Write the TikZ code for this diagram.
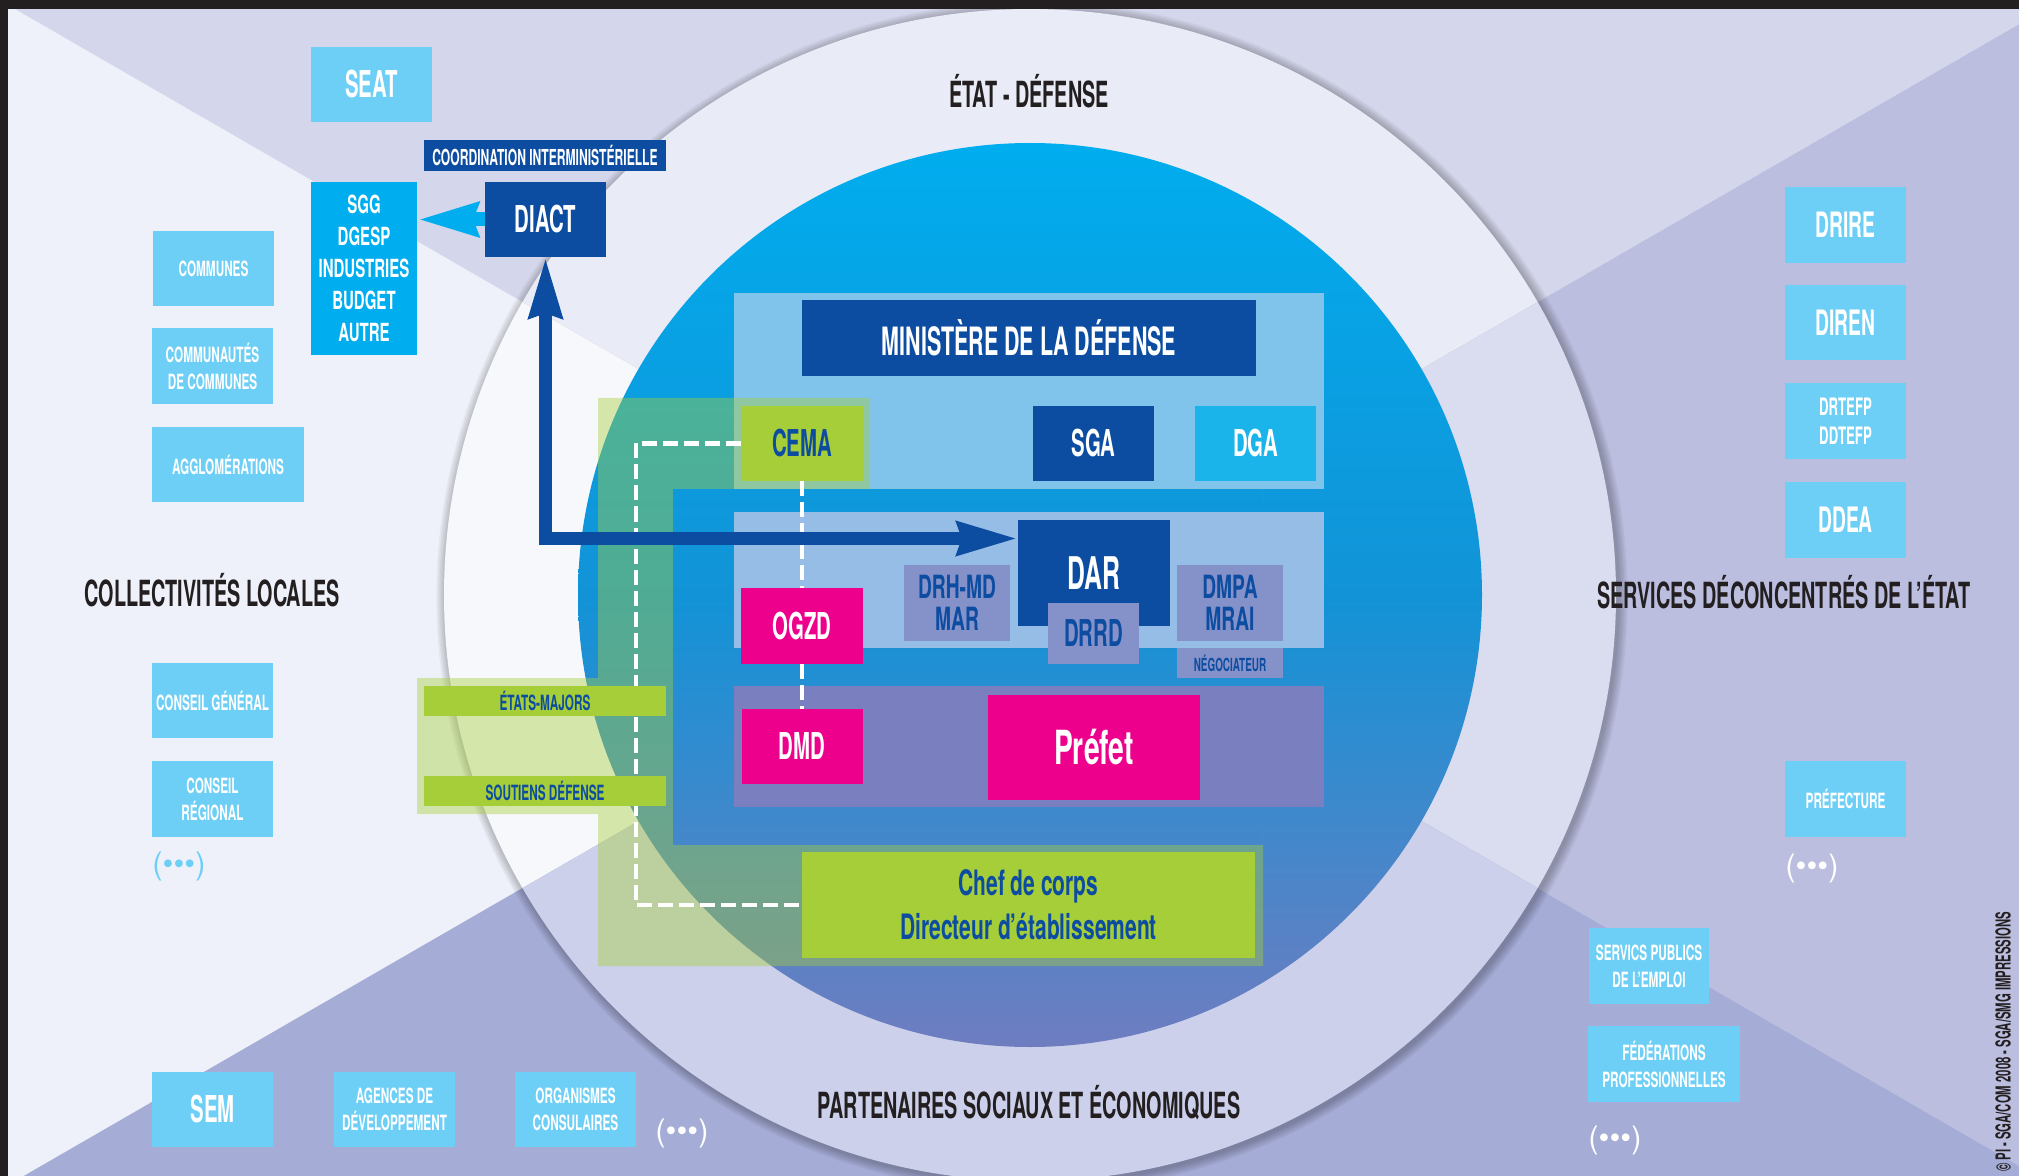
\documentclass[tikz,border=0pt]{standalone}
\usepackage{fontspec}
\setmainfont{TeX Gyre Heros}[FakeStretch=0.55]
\newfontfamily\widefont{TeX Gyre Heros}[FakeStretch=0.6]
\newfontfamily\smallfont{TeX Gyre Heros}[FakeStretch=0.56]
\newfontfamily\dotfont{TeX Gyre Heros}
\usetikzlibrary{arrows.meta}

\definecolor{ink}{HTML}{231F20}
\definecolor{navy}{HTML}{0D4DA1}
\definecolor{skyfill}{HTML}{6DCFF6}
\definecolor{cyanfill}{HTML}{00AEEF}
\definecolor{dgafill}{HTML}{1BB4EA}
\definecolor{pinkfill}{HTML}{EC008C}
\definecolor{limefill}{HTML}{A6CE39}
\definecolor{greyfill}{HTML}{8591C9}
\definecolor{secleft}{HTML}{EEF1F9}
\definecolor{sectop}{HTML}{D4D6EB}
\definecolor{secright}{HTML}{BBBEDF}
\definecolor{secbottom}{HTML}{A5ACD6}
\definecolor{ringleft}{HTML}{F7F8FC}
\definecolor{ringtop}{HTML}{E9ECF6}
\definecolor{ringright}{HTML}{DADDF0}
\definecolor{ringbottom}{HTML}{CCD0EA}
\definecolor{circtop}{HTML}{00ADEE}
\definecolor{circmid}{HTML}{1293D7}
\definecolor{circbot}{HTML}{6E7DC0}
\definecolor{toppanel}{HTML}{80C4EC}
\definecolor{midpanel}{HTML}{95BDE5}
\definecolor{purplepanel}{HTML}{7A7FBF}

\begin{document}
\begin{tikzpicture}[x=0.5pt,y=-0.5pt,
  box/.style={inner sep=0pt,outer sep=0pt,align=center},
  sz/.style 2 args={minimum width=#1*0.5pt,minimum height=#2*0.5pt},
  skybox/.style={box,fill=skyfill,text=white},
  cyanbox/.style={box,fill=cyanfill,text=white},
  navybox/.style={box,fill=navy,text=white},
  dgabox/.style={box,fill=dgafill,text=white},
  pinkbox/.style={box,fill=pinkfill,text=white},
  limebox/.style={box,fill=limefill,text=navy},
  greybox/.style={box,fill=greyfill,text=navy},
  fhuge/.style={font=\bfseries\fontsize{22.5}{24}\selectfont},
  fprefet/.style={font=\widefont\bfseries\fontsize{23.5}{25}\selectfont},
  fmin/.style={font=\bfseries\fontsize{19.5}{21}\selectfont},
  fbig/.style={font=\bfseries\fontsize{18.5}{20}\selectfont},
  fright/.style={font=\bfseries\fontsize{17.5}{19}\selectfont},
  fmid/.style={font=\widefont\bfseries\fontsize{16}{15.8}\selectfont},
  fchef/.style={font=\widefont\bfseries\fontsize{17.5}{22}\selectfont},
  fsgg/.style={font=\widefont\bfseries\fontsize{12.5}{16}\selectfont},
  fdrtefp/.style={font=\bfseries\fontsize{12}{14.5}\selectfont},
  fsmall/.style={font=\smallfont\bfseries\fontsize{10.5}{13.5}\selectfont},
  fcoord/.style={font=\bfseries\fontsize{11}{12}\selectfont},
  fnego/.style={font=\bfseries\fontsize{9}{10}\selectfont},
  titletext/.style={anchor=base,inner sep=0pt,text=ink,font=\bfseries\fontsize{18}{20}\selectfont},
  dotsmark/.style={inner sep=0pt,font=\dotfont\fontsize{15.5}{16}\selectfont},
  dashline/.style={white,line width=2.4pt,dash pattern=on 7.5pt off 3pt},
  navyarrow/.style={draw=navy,line width=6.5pt,{Stealth[length=30pt,width=16pt,inset=2pt]}-{Stealth[length=30pt,width=16pt,inset=2pt]}},
  skyarrow/.style={draw=cyanfill,line width=7pt,-{Stealth[length=30pt,width=16pt,inset=2pt]}},
]
\useasboundingbox (0,0) rectangle (2019,1176);

% sectors, ring and disc
\begin{scope}
  \clip (0,0) rectangle (2019,1176);
  \fill[secleft] (1030,595) -- (-1000,-577) -- (-1000,1767) -- cycle;
  \fill[sectop] (1030,595) -- (-1000,-577) -- (3000,-542) -- cycle;
  \fill[secright] (1030,595) -- (3000,-542) -- (3000,1732) -- cycle;
  \fill[secbottom] (1030,595) -- (3000,1732) -- (-1000,1767) -- cycle;
  \foreach \r in {1,...,6}
    \fill[black,opacity=0.045] (1032,597) circle[radius=586+1.6*\r];
  \begin{scope}
    \clip (1030,595) circle[radius=586];
    \fill[ringleft] (1030,595) -- (-1000,-577) -- (-1000,1767) -- cycle;
    \fill[ringtop] (1030,595) -- (-1000,-577) -- (3000,-542) -- cycle;
    \fill[ringright] (1030,595) -- (3000,-542) -- (3000,1732) -- cycle;
    \fill[ringbottom] (1030,595) -- (3000,1732) -- (-1000,1767) -- cycle;
  \end{scope}
  \shade[top color=circtop,bottom color=circbot,middle color=circmid] (1030,595) circle[radius=452];
\end{scope}
\fill[ink] (0,0) rectangle (2019,9);
\fill[ink] (0,0) rectangle (8,1176);

% panels
\fill[toppanel] (734,293) rectangle (1324,489);
\fill[limefill,opacity=0.42] (598,398) -- (870,398) -- (870,489) -- (1263,489) -- (1263,966)
  -- (598,966) -- (598,814) -- (417,814) -- (417,678) -- (598,678) -- cycle;
\begin{scope}
  \clip (673,490) rectangle (1263,844);
  \shade[top color=circtop,bottom color=circbot,middle color=circmid] (1030,595) circle[radius=452];
\end{scope}
\fill[midpanel] (734,512) rectangle (1324,648);
\fill[purplepanel] (734,686) rectangle (1324,807);

% left side
\node[skybox,sz={121}{75},fbig] (seat) at (371.5,84.5) {SEAT};
\node[navybox,sz={242}{31},fcoord] (coord) at (545,155.5) {COORDINATION INTERMINISTÉRIELLE};
\node[navybox,sz={121}{75},fbig] (diact) at (545.5,219.5) {DIACT};
\node[cyanbox,sz={106}{173},fsgg] (sgg) at (364,268.5) {SGG\\DGESP\\INDUSTRIES\\BUDGET\\AUTRE};
\node[skybox,sz={121}{75},fsmall] (communes) at (213.5,268.5) {COMMUNES};
\node[skybox,sz={121}{76},fsmall] (communautes) at (212.5,366) {COMMUNAUTÉS\\DE COMMUNES};
\node[skybox,sz={152}{75},fsmall] (agglo) at (228,464.5) {AGGLOMÉRATIONS};
\node[skybox,sz={121}{75},fsmall] (conseilgen) at (212.5,700.5) {CONSEIL GÉNÉRAL};
\node[skybox,sz={121}{76},fsmall] (conseilreg) at (212.5,799) {CONSEIL\\RÉGIONAL};
\node[dotsmark,text=skyfill] (leftmore) at (179,866) {(•••)};

% bottom
\node[skybox,sz={121}{75},fbig] (sem) at (212.5,1109.5) {SEM};
\node[skybox,sz={121}{75},fsmall] (agences) at (394.5,1109.5) {AGENCES DE\\DÉVELOPPEMENT};
\node[skybox,sz={121}{75},fsmall] (organismes) at (575.5,1109.5) {ORGANISMES\\CONSULAIRES};
\node[dotsmark,text=white] (bottommore) at (682,1133) {(•••)};

% right side
\node[skybox,sz={121}{76},fright] (drire) at (1845.5,225) {DRIRE};
\node[skybox,sz={121}{75},fright] (diren) at (1845.5,322.5) {DIREN};
\node[skybox,sz={121}{76},fdrtefp] (drtefp) at (1845.5,421) {DRTEFP\\DDTEFP};
\node[skybox,sz={121}{76},fright] (ddea) at (1845.5,520) {DDEA};
\node[skybox,sz={121}{76},fsmall] (prefecture) at (1845.5,799) {PRÉFECTURE};
\node[dotsmark,text=white] (rightmore) at (1812,868) {(•••)};
\node[skybox,sz={120}{76},fsmall] (emploi) at (1649,966) {SERVICS PUBLICS\\DE L’EMPLOI};
\node[skybox,sz={152}{76},fsmall] (federations) at (1664,1064) {FÉDÉRATIONS\\PROFESSIONNELLES};
\node[dotsmark,text=white] (lowmore) at (1615,1140) {(•••)};

% centre
\node[navybox,sz={454}{76},fmin] (ministere) at (1029,338) {MINISTÈRE DE LA DÉFENSE};
\node[limebox,sz={122}{75},fbig] (cema) at (802,443.5) {CEMA};
\node[navybox,sz={121}{75},fbig] (sga) at (1093.5,443.5) {SGA};
\node[dgabox,sz={121}{75},fbig] (dga) at (1255.5,443.5) {DGA};
\node[navybox,sz={152}{106},fhuge] (dar) at (1094,573) {DAR};
\node[greybox,sz={91}{61},fbig] (drrd) at (1093.5,633.5) {DRRD};
\node[greybox,sz={106}{76},fmid] (drh) at (957,603) {DRH-MD\\MAR};
\node[greybox,sz={106}{76},fmid] (dmpa) at (1230,603) {DMPA\\MRAI};
\node[greybox,sz={106}{30},fnego] (nego) at (1230,663) {NÉGOCIATEUR};
\node[pinkbox,sz={122}{76},fbig] (ogzd) at (802,626) {OGZD};
\node[pinkbox,sz={121}{75},fbig] (dmd) at (802,746.5) {DMD};
\node[pinkbox,sz={212}{105},fprefet] (prefet) at (1094,747.5) {Préfet};
\node[limebox,sz={453}{106},fchef] (chef) at (1028.5,905) {Chef de corps\\Directeur d’établissement};

\coordinate (veilcorner) at (636,905);
\draw[dashline] (cema.west) -| (veilcorner) -- (chef.west);
\draw[dashline] (cema.south) -- (ogzd.north);
\draw[dashline] (ogzd.south) -- (dmd.north);

\node[limebox,sz={242}{30},fsmall] (etatsmajors) at (545,701) {ÉTATS-MAJORS};
\node[limebox,sz={242}{30},fsmall] (soutiens) at (545,791) {SOUTIENS DÉFENSE};

\coordinate (armbend) at (545.5,538.5);
\draw[navyarrow] (diact.south) -- (armbend) -- (armbend -| dar.west);
\draw[skyarrow] (diact.west) -- (diact.west -| sgg.east);

% titles
\node[titletext] (collectivites) at (212,606) {COLLECTIVITÉS LOCALES};
\node[titletext] (etat) at (1029,108) {ÉTAT - DÉFENSE};
\node[titletext] (services) at (1784,608) {SERVICES DÉCONCENTRÉS DE L’ÉTAT};
\node[titletext] (partenaires) at (1029,1118) {PARTENAIRES SOCIAUX ET ÉCONOMIQUES};
\node[rotate=90,inner sep=0pt,text=ink,font=\bfseries\fontsize{10.3}{11}\selectfont] (copyright) at (2003,1042) {© PI - SGA/COM 2008 - SGA/SMG IMPRESSIONS};
\end{tikzpicture}
\end{document}
